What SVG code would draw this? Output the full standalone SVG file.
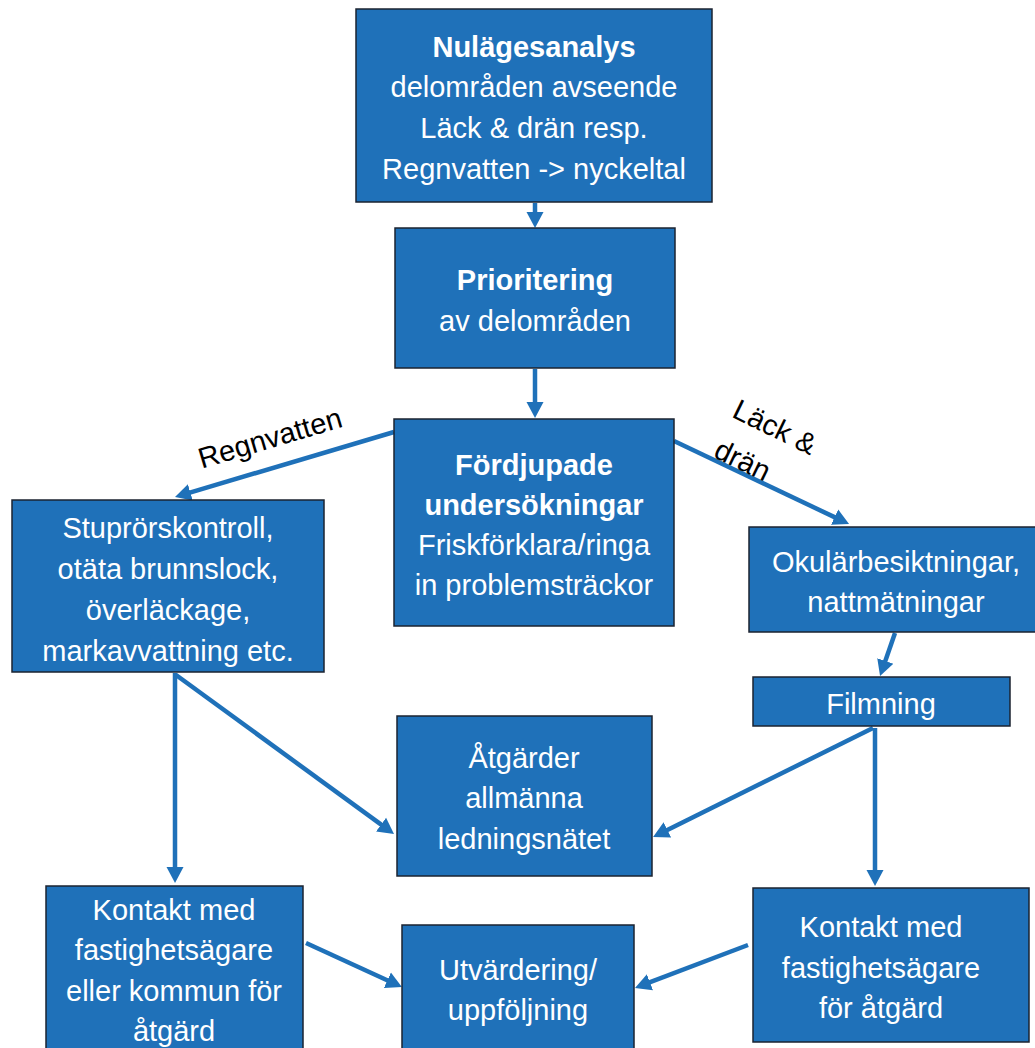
<svg xmlns="http://www.w3.org/2000/svg" width="1035" height="1048" viewBox="0 0 1035 1048">
<defs>
<marker id="ah" markerUnits="userSpaceOnUse" markerWidth="18" markerHeight="18" refX="4" refY="8.5" orient="auto" viewBox="0 0 18 17">
<path d="M0,0 L16,8.5 L0,17 z" fill="#1f71b9"/>
</marker>
<style>
.box{fill:#1f71b9;stroke:#1b2330;stroke-width:1.5}
.t{font-family:"Liberation Sans",Arial,sans-serif;font-size:29px;fill:#fff;text-anchor:middle}
.b{font-weight:bold}
.lbl{font-family:"Liberation Sans",Arial,sans-serif;font-size:29px;fill:#000}
.c line{stroke:#1f71b9;stroke-width:4.5;marker-end:url(#ah)}
</style>
</defs>
<rect width="1035" height="1048" fill="#fff"/>
<g class="c" id="connectors">
<line x1="535" y1="203" x2="535" y2="216"/>
<line x1="535" y1="369" x2="535" y2="406"/>
<line x1="394" y1="432" x2="186.5" y2="493.6"/>
<line x1="674" y1="441" x2="838.2" y2="518.9"/>
<line x1="895" y1="633" x2="884" y2="664.7"/>
<line x1="175" y1="673" x2="175" y2="871"/>
<line x1="176" y1="675" x2="384.3" y2="826.9"/>
<line x1="873" y1="728" x2="663.8" y2="831.7"/>
<line x1="875" y1="728" x2="875" y2="874"/>
<line x1="306" y1="943" x2="391" y2="982"/>
<line x1="748" y1="945" x2="646.2" y2="983.7"/>
</g>
<g id="lbl-regnvatten" transform="translate(270,438) rotate(-16.5)">
<text class="lbl" x="0" y="10" text-anchor="middle">Regnvatten</text>
</g>
<g id="lbl-lack" transform="translate(775,427) rotate(26)">
<text class="lbl" x="0" y="10" text-anchor="middle">Läck &amp;</text>
<text class="lbl" x="-43.5" y="54">drän</text>
</g>
<g id="n1">
<rect class="box" x="356" y="9" width="356" height="193"/>
<text class="t b" x="534" y="57">Nulägesanalys</text>
<text class="t" x="534" y="97">delområden avseende</text>
<text class="t" x="534" y="138">Läck &amp; drän resp.</text>
<text class="t" x="534" y="179">Regnvatten -&gt; nyckeltal</text>
</g>
<g id="n2">
<rect class="box" x="395" y="228" width="280" height="140"/>
<text class="t b" x="535" y="290">Prioritering</text>
<text class="t" x="535" y="331">av delområden</text>
</g>
<g id="n3">
<rect class="box" x="394" y="419" width="280" height="207"/>
<text class="t b" x="534" y="475">Fördjupade</text>
<text class="t b" x="534" y="515">undersökningar</text>
<text class="t" x="534" y="555">Friskförklara/ringa</text>
<text class="t" x="534" y="595">in problemsträckor</text>
</g>
<g id="n4">
<rect class="box" x="12" y="500" width="312" height="172"/>
<text class="t" x="168" y="538">Stuprörskontroll,</text>
<text class="t" x="168" y="579">otäta brunnslock,</text>
<text class="t" x="168" y="620">överläckage,</text>
<text class="t" x="168" y="661">markavvattning etc.</text>
</g>
<g id="n5">
<rect class="box" x="749" y="527" width="290" height="105"/>
<text class="t" x="896" y="572">Okulärbesiktningar,</text>
<text class="t" x="896" y="612">nattmätningar</text>
</g>
<g id="n6">
<rect class="box" x="753" y="677" width="257" height="49"/>
<text class="t" x="881" y="714">Filmning</text>
</g>
<g id="n7">
<rect class="box" x="397" y="716" width="255" height="160"/>
<text class="t" x="524" y="768">Åtgärder</text>
<text class="t" x="524" y="808">allmänna</text>
<text class="t" x="524" y="849">ledningsnätet</text>
</g>
<g id="n8">
<rect class="box" x="46" y="886" width="257" height="170"/>
<text class="t" x="174" y="920">Kontakt med</text>
<text class="t" x="174" y="960">fastighetsägare</text>
<text class="t" x="174" y="1001">eller kommun för</text>
<text class="t" x="174" y="1041">åtgärd</text>
</g>
<g id="n9">
<rect class="box" x="402" y="925" width="232" height="130"/>
<text class="t" x="518" y="980">Utvärdering/</text>
<text class="t" x="518" y="1020">uppföljning</text>
</g>
<g id="n10">
<rect class="box" x="753" y="888" width="276" height="154"/>
<text class="t" x="881" y="937">Kontakt med</text>
<text class="t" x="881" y="978">fastighetsägare</text>
<text class="t" x="881" y="1018">för åtgärd</text>
</g>
</svg>
